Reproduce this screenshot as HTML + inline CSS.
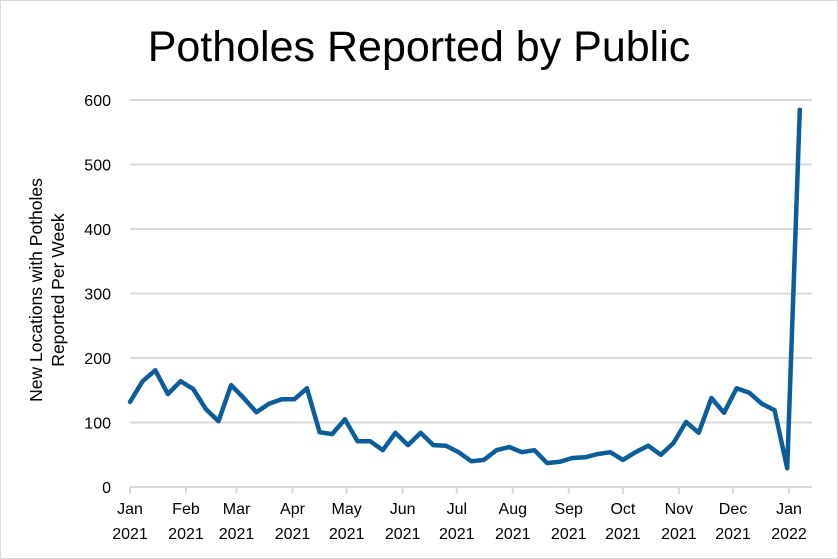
<!DOCTYPE html>
<html><head><meta charset="utf-8"><style>
body{margin:0;background:#fff}
svg{font-family:"Liberation Sans",Calibri,sans-serif;display:block}
</style></head><body>
<svg width="838" height="559" viewBox="0 0 838 559">
<rect x="0.5" y="0.5" width="837" height="558" fill="#fff" stroke="#d9d9d9"/>
<text x="419" y="61" text-anchor="middle" font-size="43" fill="#000">Potholes Reported by Public</text>
<g id="grid"></g><g id="yt"></g><g id="xt"></g>
<g transform="translate(42,290) rotate(-90)">
<text x="0" y="0" text-anchor="middle" font-size="17.5" fill="#000">New Locations with Potholes</text>
<text x="0" y="22" text-anchor="middle" font-size="17.5" fill="#000">Reported Per Week</text>
</g>
<path id="line" fill="none" stroke="#0b5e99" stroke-width="4.5" stroke-linejoin="round" stroke-linecap="round"/>
</svg>
<script>
const values=[132,164,181,144,164,152,121,102,158,138,116,129,136,136,153,85,82,105,71,71,57,84,65,84,65,64,54,40,42,57,62,54,57,37,39,45,46,51,54,42,54,64,50,68,101,84,138,115,153,146,129,119,29,585];
const yTicks=[0,100,200,300,400,500,600];
const monthLabels=["Jan","Feb","Mar","Apr","May","Jun","Jul","Aug","Sep","Oct","Nov","Dec","Jan"];
const yearLabels=["2021","2021","2021","2021","2021","2021","2021","2021","2021","2021","2021","2021","2022"];
const monthDays=[0,31,59,90,120,151,181,212,243,273,304,334,365];
const NS="http://www.w3.org/2000/svg";
const x0=130,x1=789,y0=487,y1=100;
const xDay=d=>x0+(x1-x0)*d/365;
const xIdx=i=>xDay(i*7);
const y=v=>y0-(y0-y1)*v/600;
function mk(t,a,p){const e=document.createElementNS(NS,t);for(const k in a)e.setAttribute(k,a[k]);p.appendChild(e);return e;}
const g=document.getElementById('grid'),yt=document.getElementById('yt'),xt=document.getElementById('xt');
yTicks.forEach(v=>{
 const l=mk('line',{x1:x0,x2:812,y1:y(v),y2:y(v),stroke:'#d9d9d9','stroke-width':2},g);
 
 
 const t=mk('text',{x:111,y:y(v)+6,'text-anchor':'end','font-size':16,fill:'#000'},yt);
 t.textContent=v;
 
 
});
monthDays.forEach((d,i)=>{
 const xx=xDay(d);
 const tk=mk('line',{x1:xx,x2:xx,y1:y0,y2:y0+7,stroke:'#d9d9d9','stroke-width':2},xt);
 
 
 const t=mk('text',{x:xx,y:514,'text-anchor':'middle','font-size':16,fill:'#000'},xt);
 t.textContent=monthLabels[i];
 
 
 const t2=mk('text',{x:xx,y:539,'text-anchor':'middle','font-size':16,fill:'#000'},xt);
 t2.textContent=yearLabels[i];
 
 
});
const line=document.getElementById('line');
line.setAttribute('d',values.map((v,i)=>(i?'L':'M')+xIdx(i).toFixed(1)+','+y(v).toFixed(1)).join(''));


</script>
</body></html>
